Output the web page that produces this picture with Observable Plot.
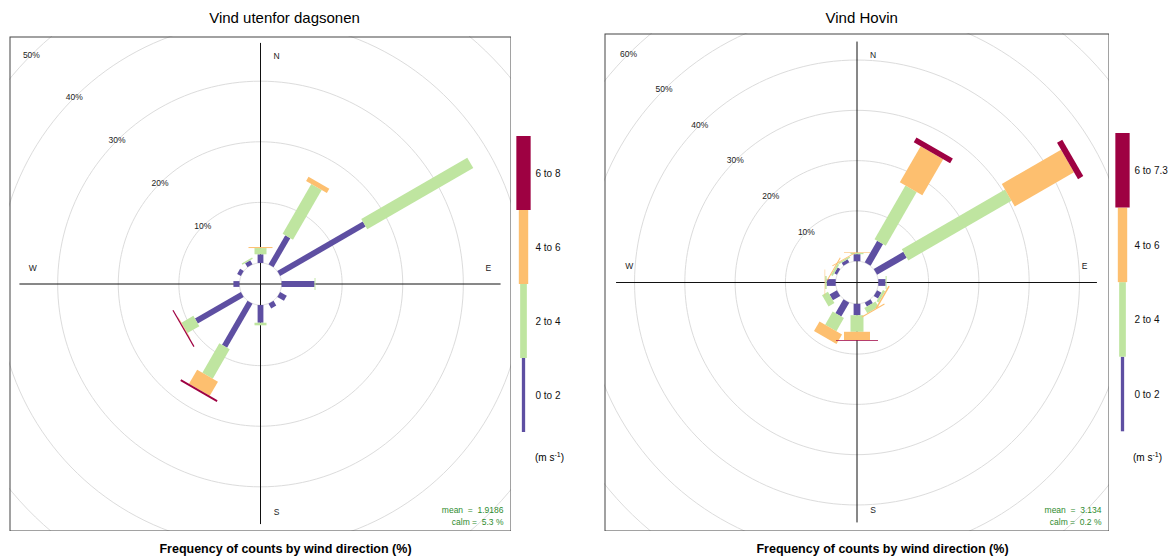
<!DOCTYPE html>
<html>
<head>
<meta charset="utf-8">
<script src="https://cdn.jsdelivr.net/npm/d3@7"></script>
<script src="https://cdn.jsdelivr.net/npm/@observablehq/plot@0.6"></script>
<style>
  body { margin: 0; background: #fff; font-family: "Liberation Sans", Arial, Helvetica, sans-serif; }
  #page { position: relative; width: 1174px; height: 557px; overflow: hidden; background: #fff; }
  .abs { position: absolute; }
  .title { font-size: 15px; color: #000; transform: translate(-50%, -50%); white-space: nowrap; }
  .xlab { font-size: 12.5px; font-weight: bold; color: #000; transform: translate(-50%, -50%); white-space: nowrap; }
  .unit { font-size: 10px; color: #000; transform: translate(0, -50%); white-space: nowrap; }
  .unit sup { font-size: 7px; }
  svg { overflow: hidden; }
</style>
</head>
<body>
<div id="page"></div>
<script>
// Wind direction sectors (degrees, clockwise from north)
const directions = [0, 30, 60, 90, 120, 150, 180, 210, 240, 270, 300, 330];

// Speed intervals (m/s)
const binsDagsonen = ["0 to 2", "2 to 4", "4 to 6", "6 to 8"];
const binsHovin = ["0 to 2", "2 to 4", "4 to 6", "6 to 7.3"];
const binColors = ["#5E4FA2", "#BFE5A0", "#FDBF6F", "#9E0142"];

// Frequency (%) per direction for each speed interval — "Vind utenfor dagsonen"
const dagsonen0to2 = [1.43, 5.54, 16.3, 5.45, 1.27, 0.9, 2.92, 8.4, 8.75, 1.0, 0.7, 0.78];
const dagsonen2to4 = [1.03, 9.47, 20.2, 0.15, 0, 0, 0.43, 5.6, 2.26, 0, 0, 0.25];
const dagsonen4to6 = [0.17, 0.8, 0, 0, 0, 0, 0, 2.7, 0.1, 0, 0, 0];
const dagsonen6to8 = [0, 0, 0, 0, 0, 0, 0, 0.3, 0.2, 0, 0, 0];

// Frequency (%) per direction for each speed interval — "Vind Hovin"
const hovin0to2 = [1.4, 4.97, 6.8, 1.46, 1.0, 0.9, 2.27, 3.2, 1.7, 1.8, 0.6, 0.7];
const hovin2to4 = [0.25, 12.3, 23.7, 0.2, 0.5, 1.2, 3.3, 3.0, 1.35, 0.3, 0.4, 0.3];
const hovin4to6 = [0.12, 8.3, 13.6, 0, 0.3, 0.2, 1.66, 2.2, 0, 0.1, 0.2, 0.15];
const hovin6to73 = [0, 1.07, 1.2, 0, 0, 0, 0.18, 0, 0, 0, 0, 0];

// Summary statistics
const meanDagsonen = "1.9186", calmDagsonen = "5.3";
const meanHovin = "3.134", calmHovin = "0.2";

const FONT = '"Liberation Sans", Arial, Helvetica, sans-serif';
const page = document.getElementById("page");

function place(el, left, top) {
  el.style.position = "absolute";
  el.style.left = left + "px";
  el.style.top = top + "px";
  page.appendChild(el);
  return el;
}

function addText(cls, html, left, top) {
  const d = document.createElement("div");
  d.className = "abs " + cls;
  d.innerHTML = html;
  return place(d, left, top);
}

// Build cumulative paddle segments (inner and outer radius) per direction and bin
function paddleSegments(series, offset) {
  const rows = [];
  directions.forEach((dir, j) => {
    let cum = 0;
    series.forEach((vals, i) => {
      const v = vals[j];
      const a = dir * Math.PI / 180;
      const r0 = offset + cum, r1 = offset + cum + v;
      cum += v;
      if (v > 0) rows.push({bin: i, dir, x1: r0 * Math.sin(a), y1: r0 * Math.cos(a), x2: r1 * Math.sin(a), y2: r1 * Math.cos(a)});
    });
  });
  return rows;
}

function rose(cfg) {
  const k = cfg.pxPerPct;
  const xr = cfg.width / 2 / k, yr = cfg.height / 2 / k;
  const rings = d3.range(0, 9).map(i => ({r: cfg.offset + i * 10, pct: i * 10}));
  const circlePts = rings.flatMap(ring => d3.range(0, 361, 2).map(a => ({
    ring: ring.r,
    x: ring.r * Math.sin(a * Math.PI / 180),
    y: ring.r * Math.cos(a * Math.PI / 180)
  })));
  // ring labels along the north-west diagonal, only those that fall inside the panel
  const pctLabels = rings.slice(1)
    .map(ring => ({x: -ring.r * Math.SQRT1_2, y: ring.r * Math.SQRT1_2, text: ring.pct + "%"}))
    .filter(d => Math.abs(d.x) * k + 12 < cfg.width / 2 && Math.abs(d.y) * k + 6 < cfg.height / 2);
  const L = cfg.axisLen, a = 0.947 * L, s = 0.067 * L;
  const compass = [
    {t: "N", x: s, y: a}, {t: "E", x: a, y: s},
    {t: "S", x: s, y: -a}, {t: "W", x: -a, y: s}
  ];
  const segs = paddleSegments(cfg.series, cfg.offset);

  const svg = Plot.plot({
    width: cfg.width,
    height: cfg.height,
    margin: 0,
    x: {domain: [-xr, xr], axis: null},
    y: {domain: [-yr, yr], axis: null},
    style: {fontFamily: FONT, background: "white", overflow: "hidden"},
    marks: [
      Plot.line(circlePts, {x: "x", y: "y", z: "ring", stroke: "#dcdcdc", strokeWidth: 1, clip: true}),
      Plot.ruleX([0], {y1: -L, y2: L, stroke: "#111", strokeWidth: 1}),
      Plot.ruleY([0], {x1: -L, x2: L, stroke: "#111", strokeWidth: 1}),
      ...binColors.map((c, i) => Plot.link(segs.filter(d => d.bin === i), {
        x1: "x1", y1: "y1", x2: "x2", y2: "y2",
        stroke: c, strokeWidth: cfg.paddleWidths[i]
      })),
      Plot.text(pctLabels, {x: "x", y: "y", text: "text", fontSize: 8.5, fill: "#222"}),
      Plot.text(compass, {x: "x", y: "y", text: "t", fontSize: 8.5, fill: "#222"}),
      Plot.text([`mean  =  ${cfg.mean}`], {frameAnchor: "bottom-right", dx: -8, dy: -21, text: d => d, fontSize: 8.5, fill: "#2E8B2E", textAnchor: "end", lineAnchor: "middle"}),
      Plot.text([`calm =  ${cfg.calm} %`], {frameAnchor: "bottom-right", dx: -8, dy: -9.5, text: d => d, fontSize: 8.5, fill: "#2E8B2E", textAnchor: "end", lineAnchor: "middle"}),
      Plot.frame({stroke: "#444", strokeWidth: 1, inset: 0.5})
    ]
  });
  svg.style.whiteSpace = "pre";
  place(svg, cfg.left, cfg.top);
}

function legend(cfg) {
  const items = cfg.bins.map((label, i) => ({i, label, color: binColors[i], w: cfg.widths[i]}));
  const svg = Plot.plot({
    width: 74,
    height: cfg.height + 20,
    marginTop: 10, marginBottom: 10, marginLeft: 12, marginRight: 0,
    x: {domain: [0, 1], axis: null},
    y: {domain: [0, items.length], axis: null},
    style: {fontFamily: FONT, background: "transparent"},
    marks: [
      ...items.map(it => Plot.ruleX([it], {x: () => 0, y1: d => d.i, y2: d => d.i + 1, stroke: it.color, strokeWidth: it.w})),
      Plot.text(items, {x: () => 0, y: d => d.i + 0.5, text: "label", dx: 12, textAnchor: "start", fontSize: 10, fill: "#111"})
    ]
  });
  place(svg, cfg.center - 12, cfg.top - 10);
}

// Left panel
rose({
  left: 9, top: 36, width: 502, height: 495,
  pxPerPct: 6.06, offset: 3.47, axisLen: 39.7,
  paddleWidths: [5.8, 12, 24, 42],
  series: [dagsonen0to2, dagsonen2to4, dagsonen4to6, dagsonen6to8],
  mean: meanDagsonen, calm: calmDagsonen
});
legend({bins: binsDagsonen, widths: [3.3, 6.7, 9.4, 14.3], center: 523, top: 136, height: 296});
addText("title", "Vind utenfor dagsonen", 284.5, 17);
addText("xlab", "Frequency of counts by wind direction (%)", 285.5, 549);
addText("unit", "(m s<sup>-1</sup>)", 535, 457);

// Right panel
rose({
  left: 604, top: 33, width: 505, height: 498,
  pxPerPct: 5.03, offset: 4.23, axisLen: 47.8,
  paddleWidths: [6.8, 13, 26, 42],
  series: [hovin0to2, hovin2to4, hovin4to6, hovin6to73],
  mean: meanHovin, calm: calmHovin
});
legend({bins: binsHovin, widths: [3.3, 6.7, 9.4, 14.3], center: 1121.5, top: 132.7, height: 298.3});
addText("title", "Vind Hovin", 861.7, 17);
addText("xlab", "Frequency of counts by wind direction (%)", 882.5, 549);
addText("unit", "(m s<sup>-1</sup>)", 1133, 457);
</script>
</body>
</html>
